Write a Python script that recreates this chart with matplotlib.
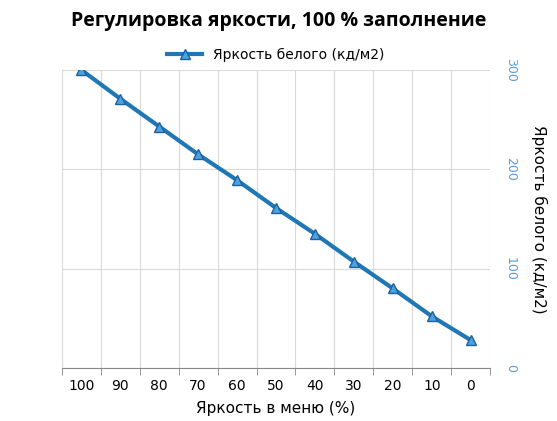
import matplotlib
matplotlib.use("Agg")
import matplotlib.pyplot as plt
import numpy as np

menu = [100, 90, 80, 70, 60, 50, 40, 30, 20, 10, 0]
white = [300, 271, 243, 215, 189, 161, 135, 107, 80, 52, 28]
yticks = [0, 100, 200, 300]

fig = plt.figure(figsize=(5.57, 4.21), dpi=100)
ax = fig.add_axes([0.111, 0.126, 0.769, 0.708])
x = np.arange(len(menu))
ax.plot(x, white, color="#1f77b4", lw=3, marker="^", ms=7, mfc="#4aa3df", mec="#1f5f9f",
        label="Яркость белого (кд/м2)")
ax.set_xlim(-0.5, len(menu) - 0.5)
ax.set_xticks(x)
ax.set_xticklabels([str(m) for m in menu], fontsize=10)
ax.set_xticks(np.arange(-0.5, len(menu)), minor=True)
ax.tick_params(axis="x", which="major", length=0, pad=8)
ax.tick_params(axis="x", which="minor", length=5, color="#888888")
ax.grid(True, which="minor", axis="x", color="#d9d9d9")
ax.set_ylim(0, 300)
ax.yaxis.tick_right()
ax.yaxis.set_label_position("right")
ax.set_yticks(yticks)
ax.set_yticklabels([str(v) for v in yticks], rotation=-90, va="center", color="#5b9bd5", fontsize=9)
ax.tick_params(axis="y", length=0, pad=10)
ax.grid(True, axis="y", color="#d9d9d9")
for s in ["top", "right", "left"]:
    ax.spines[s].set_visible(False)
ax.spines["bottom"].set_color("#888888")
ax.set_ylabel("Яркость белого (кд/м2)", rotation=-90, labelpad=22, fontsize=11)
ax.set_xlabel("Яркость в меню (%)", fontsize=11, labelpad=6)
fig.suptitle("Регулировка яркости, 100 % заполнение", fontsize=14, fontweight="bold",
             family="Open Sans", y=0.975)
ax.legend(loc="lower center", bbox_to_anchor=(0.5, 1.0), frameon=False, fontsize=10,
          handlelength=2.5, borderaxespad=0.2)
fig.savefig("out.png", dpi=100)
